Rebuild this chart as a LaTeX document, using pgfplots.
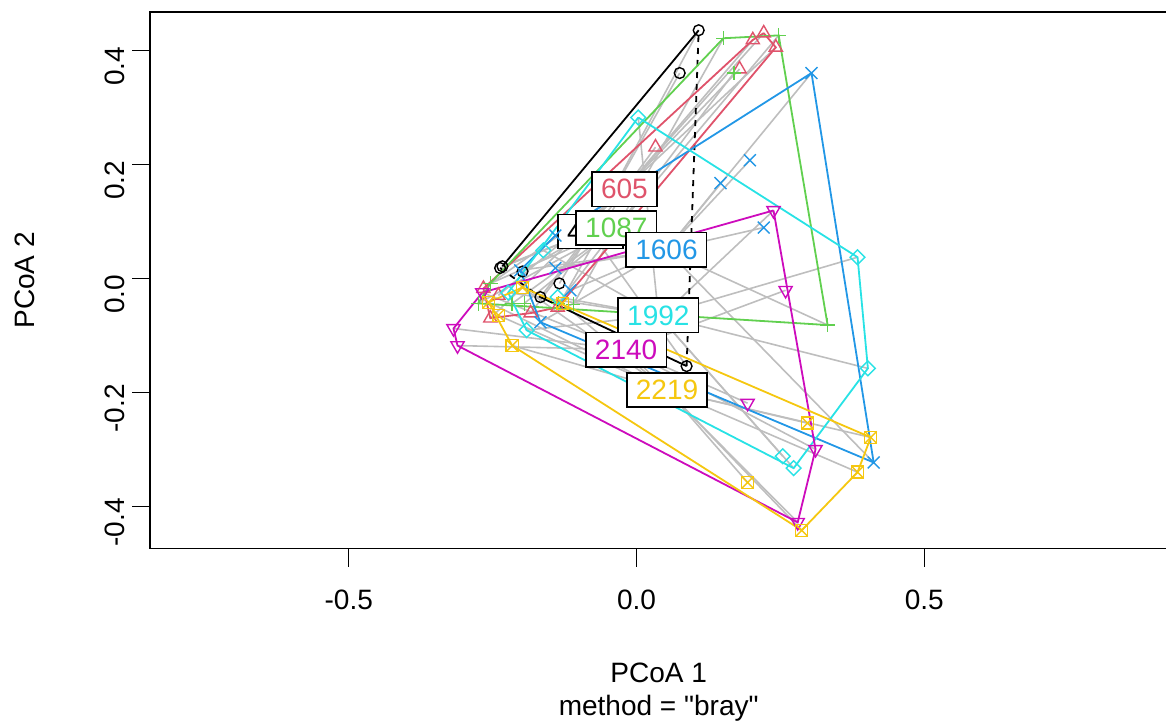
\documentclass[border=0pt]{standalone}
\usepackage{fontspec}
\setmainfont{Liberation Sans}
\newfontfamily\rawf{Liberation Sans}
\usepackage{pgfplots}
\usepackage{pgfplotstable}
\pgfplotsset{compat=1.18}

% R 4 default palette
\definecolor{gA}{HTML}{000000}
\definecolor{gB}{HTML}{DF536B}
\definecolor{gC}{HTML}{61D04F}
\definecolor{gD}{HTML}{2297E6}
\definecolor{gE}{HTML}{28E2E5}
\definecolor{gF}{HTML}{CD0BBC}
\definecolor{gG}{HTML}{F5C710}
\definecolor{seg}{HTML}{BEBEBE}

% sites per group (PCoA 1, PCoA 2)
\pgfplotstableread{
x y
0.108 0.435
0.075 0.360
-0.237 0.018
-0.233 0.021
-0.198 0.012
-0.167 -0.033
-0.134 -0.009
0.087 -0.154
}\tblA
\pgfplotstableread{
x y
0.221 0.430
0.202 0.418
0.242 0.405
0.179 0.367
0.033 0.230
-0.266 -0.018
-0.240 -0.030
-0.254 -0.070
-0.184 -0.061
-0.137 -0.051
}\tblB
\pgfplotstableread{
x y
0.151 0.421
0.247 0.426
0.169 0.360
0.332 -0.082
-0.254 -0.009
-0.275 -0.044
-0.216 -0.044
-0.195 -0.044
-0.110 -0.046
-0.136 -0.044
}\tblC
\pgfplotstableread{
x y
0.304 0.360
0.197 0.207
0.146 0.167
0.221 0.089
0.412 -0.323
-0.202 0.014
-0.141 0.018
-0.141 0.075
-0.115 -0.021
-0.167 -0.077
}\tblD
\pgfplotstableread{
x y
0.003 0.282
0.384 0.037
0.402 -0.158
0.273 -0.333
0.254 -0.312
-0.162 0.049
-0.137 -0.033
-0.191 -0.091
-0.223 -0.025
}\tblE
\pgfplotstableread{
x y
0.238 0.119
0.259 -0.021
0.193 -0.219
0.311 -0.300
0.280 -0.428
-0.318 -0.088
-0.311 -0.118
-0.268 -0.025
}\tblF
\pgfplotstableread{
x y
0.297 -0.254
0.407 -0.279
0.384 -0.340
0.287 -0.442
0.193 -0.358
-0.198 -0.016
-0.257 -0.042
-0.240 -0.065
-0.216 -0.118
-0.129 -0.044
}\tblG

% group centroids
\def\cAx{-0.080}\def\cAy{0.082}
\def\cBx{-0.021}\def\cBy{0.156}
\def\cCx{-0.035}\def\cCy{0.088}
\def\cDx{0.052}\def\cDy{0.050}
\def\cEx{0.038}\def\cEy{-0.065}
\def\cFx{-0.018}\def\cFy{-0.125}
\def\cGx{0.053}\def\cGy{-0.196}

\newcommand{\fnt}{\fontsize{14}{16}\selectfont}

\begin{document}
\begin{tikzpicture}
\pgfplotsset{
  spider/.style 2 args={seg, line width=0.8pt, no marks,
    quiver={u={#1-(\thisrow{x})}, v={#2-(\thisrow{y})}}},
  hull/.style={line width=0.9pt, no marks},
  pts/.style={only marks, line width=0.7pt},
}
\begin{axis}[
  name=ax,
  scale only axis, width=508pt, height=268pt,
  xmin=-0.845, xmax=0.922, ymin=-0.474, ymax=0.467,
  xtick={-0.5,0,0.5}, xticklabels={-0.5,0.0,0.5},
  ytick={-0.4,-0.2,0,0.2,0.4}, yticklabels={-0.4,-0.2,0.0,0.2,0.4},
  tick align=outside, tick pos=left, major tick length=9pt,
  tick style={black, line width=0.7pt},
  axis line style={line width=0.8pt},
  tick label style={font=\fnt},
  xticklabel style={anchor=north, yshift=-8pt},
  yticklabel style={rotate=90, anchor=south, xshift=-8pt},
  unbounded coords=jump,
]
% spider segments
\addplot[spider={\cAx}{\cAy}] table {\tblA};
\addplot[spider={\cBx}{\cBy}] table {\tblB};
\addplot[spider={\cCx}{\cCy}] table {\tblC};
\addplot[spider={\cDx}{\cDy}] table {\tblD};
\addplot[spider={\cEx}{\cEy}] table {\tblE};
\addplot[spider={\cFx}{\cFy}] table {\tblF};
\addplot[spider={\cGx}{\cGy}] table {\tblG};

% hulls
\addplot[hull, gA] coordinates {(0.108,0.435) (-0.233,0.021) (nan,nan) (-0.167,-0.033) (0.087,-0.154)};
\addplot[hull, gA, dashed] coordinates {(-0.237,0.018) (-0.167,-0.033) (nan,nan) (0.087,-0.154) (0.108,0.435)};
\addplot[hull, gB] coordinates {(0.221,0.430) (0.242,0.405) (-0.137,-0.051) (-0.184,-0.061) (-0.254,-0.070) (-0.266,-0.018) (0.202,0.418) (0.221,0.430)};
\addplot[hull, gC] coordinates {(0.151,0.421) (0.247,0.426) (0.332,-0.082) (-0.275,-0.044) (-0.254,-0.009) (0.151,0.421)};
\addplot[hull, gD] coordinates {(0.304,0.360) (0.412,-0.323) (-0.167,-0.077) (-0.202,0.014) (-0.141,0.075) (0.304,0.360)};
\addplot[hull, gE] coordinates {(0.003,0.282) (0.384,0.037) (0.402,-0.158) (0.273,-0.333) (-0.191,-0.091) (-0.223,-0.025) (0.003,0.282)};
\addplot[hull, gF] coordinates {(0.238,0.119) (0.311,-0.300) (0.280,-0.428) (-0.311,-0.118) (-0.318,-0.088) (-0.268,-0.025) (0.238,0.119)};
\addplot[hull, gG] coordinates {(0.407,-0.279) (0.384,-0.340) (0.287,-0.442) (-0.216,-0.118) (-0.257,-0.042) (-0.198,-0.016) (0.407,-0.279)};

% points
\addplot[pts, gA, mark=o, mark size=2.7pt] table {\tblA};
\addplot[pts, gB, mark=triangle, mark size=3.8pt] table {\tblB};
\addplot[pts, gC, mark=+, mark size=3.6pt] table {\tblC};
\addplot[pts, gD, mark=x, mark size=4.2pt] table {\tblD};
\addplot[pts, gE, mark=square, mark size=2.6pt, mark options={rotate=45}] table {\tblE};
\addplot[pts, gF, mark=triangle, mark size=3.8pt, mark options={rotate=180}] table {\tblF};
\addplot[pts, gG, mark=square, mark size=3pt] table {\tblG};
\addplot[pts, gG, mark=x, mark size=4.2pt] table {\tblG};

% centroid labels
\tikzset{lbl/.style={draw=black, fill=white, line width=0.8pt, font=\fnt, inner xsep=4.5pt, inner ysep=3.6pt}}
\node[lbl, text=gA] at (axis cs:\cAx,\cAy) {433};
\node[lbl, text=gB] at (axis cs:\cBx,\cBy) {605};
\node[lbl, text=gC] at (axis cs:\cCx,\cCy) {1087};
\node[lbl, text=gD] at (axis cs:\cDx,\cDy) {1606};
\node[lbl, text=gE] at (axis cs:\cEx,\cEy) {1992};
\node[lbl, text=gF] at (axis cs:\cFx,\cFy) {2140};
\node[lbl, text=gG] at (axis cs:\cGx,\cGy) {2219};
\end{axis}
\node[font=\fnt] at ([yshift=-62pt]ax.south) {PCoA 1};
\node[font=\fnt\rawf] at ([yshift=-80pt]ax.south) {method = "bray"};
\node[font=\fnt, rotate=90] at ([xshift=-62.5pt]ax.west) {PCoA 2};
\pgfresetboundingbox
\path ([xshift=-75pt, yshift=-88.5pt]ax.south west) rectangle ([xshift=-0.6pt, yshift=6pt]ax.north east);
\end{tikzpicture}
\end{document}
